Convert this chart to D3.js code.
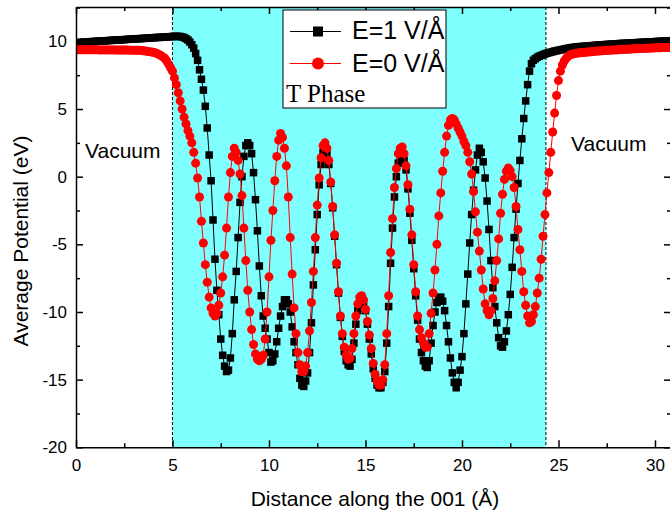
<!DOCTYPE html>
<html>
<head>
<meta charset="utf-8">
<script src="https://cdn.jsdelivr.net/npm/d3@7"></script>
<style>
	body { margin: 0; background: #fff; }
	svg { display: block; font-family: "Liberation Sans", Arial, sans-serif; }
	.axis path, .axis line { stroke: #000; stroke-width: 1.5; }
	.axis text { font-size: 17px; fill: #000; font-family: "Liberation Sans", Arial, sans-serif; }
</style>
</head>
<body>
<svg id="chart" width="670" height="517"></svg>
<script>
// sampling grid of the averaged potential (Å)
var xStep = 0.1;

// E = 1 V/Å, one value per grid point from 0 Å
var e1Values = [
	9.90,9.91,9.92,9.93,9.94,9.95,9.96,9.97,9.98,9.99,
	10.00,10.01,10.02,10.02,10.03,10.04,10.05,10.06,10.07,10.08,
	10.09,10.10,10.11,10.11,10.12,10.13,10.14,10.15,10.16,10.17,
	10.18,10.19,10.20,10.20,10.21,10.22,10.23,10.24,10.25,10.26,
	10.27,10.28,10.29,10.29,10.30,10.31,10.32,10.33,10.34,10.35,
	10.36,10.36,10.37,10.37,10.36,10.33,10.28,10.20,10.10,9.95,
	9.75,9.50,9.10,8.60,7.90,7.20,6.40,5.20,3.60,1.60,
	-0.30,-3.20,-6.10,-8.40,-10.20,-12.00,-13.20,-14.00,-14.40,-14.30,
	-13.40,-11.60,-9.10,-7.00,-4.50,-1.90,0.00,1.50,2.30,2.50,
	2.30,1.70,0.30,-1.70,-4.00,-6.60,-8.80,-10.30,-11.20,-12.00,
	-13.00,-13.70,-13.60,-13.10,-12.20,-11.20,-10.30,-9.60,-9.10,-9.10,
	-9.40,-10.00,-11.10,-12.20,-13.00,-13.90,-14.90,-15.40,-15.50,-15.10,
	-14.50,-13.00,-10.80,-8.00,-5.40,-2.80,-0.60,0.90,1.80,2.00,
	1.70,0.90,-0.50,-2.30,-4.40,-6.50,-8.60,-10.40,-11.80,-12.90,
	-13.60,-13.90,-14.00,-13.50,-12.30,-10.90,-9.90,-9.40,-9.20,-9.30,
	-9.90,-10.90,-12.00,-13.10,-14.20,-14.90,-15.40,-15.60,-15.60,-15.20,
	-14.40,-12.30,-9.60,-6.40,-3.80,-1.50,0.00,1.00,1.50,1.60,
	1.20,0.50,-0.90,-2.70,-4.70,-6.80,-8.80,-10.60,-12.00,-13.00,
	-13.60,-14.00,-14.10,-13.60,-12.30,-11.00,-10.00,-9.30,-9.00,-8.90,
	-9.20,-9.90,-11.00,-12.20,-13.40,-14.50,-15.20,-15.60,-15.20,-14.30,
	-13.30,-11.60,-9.40,-7.20,-4.90,-2.80,-1.00,0.50,1.60,2.10,
	1.80,1.10,-0.10,-1.80,-3.90,-6.20,-8.20,-9.60,-10.80,-11.90,
	-12.50,-12.60,-12.20,-11.40,-10.20,-8.70,-6.70,-4.50,-2.40,-0.50,
	1.20,2.80,4.30,5.60,6.80,7.80,8.35,8.60,8.72,8.82,
	8.90,8.96,9.02,9.07,9.12,9.16,9.20,9.24,9.28,9.31,
	9.34,9.37,9.40,9.43,9.46,9.49,9.52,9.54,9.56,9.58,
	9.60,9.61,9.62,9.63,9.64,9.65,9.66,9.68,9.69,9.70,
	9.72,9.73,9.74,9.75,9.76,9.77,9.78,9.79,9.80,9.81,
	9.82,9.83,9.84,9.85,9.85,9.86,9.87,9.88,9.89,9.89,
	9.90,9.91,9.92,9.93,9.93,9.94,9.95,9.96,9.97,9.97,
	9.98,9.99,10.00,10.00,10.01,10.02,10.03,10.04,10.05
];

// E = 0 V/Å
var e0Values = [
	9.38,9.38,9.38,9.38,9.38,9.38,9.38,9.38,9.38,9.38,
	9.38,9.38,9.37,9.37,9.37,9.37,9.37,9.37,9.37,9.37,
	9.37,9.36,9.36,9.36,9.36,9.36,9.36,9.36,9.35,9.35,
	9.35,9.34,9.34,9.34,9.32,9.30,9.28,9.26,9.24,9.22,
	9.20,9.15,9.10,9.02,8.95,8.85,8.75,8.55,8.30,8.05,
	7.80,7.30,6.80,6.20,5.60,5.00,4.40,3.90,3.40,3.00,
	2.50,1.80,1.00,-0.10,-1.50,-3.30,-4.90,-6.50,-7.80,-8.90,
	-9.70,-10.10,-10.30,-10.10,-9.50,-8.60,-7.40,-5.80,-3.80,-1.50,
	0.30,1.50,2.10,1.80,1.20,0.20,-1.40,-3.80,-6.20,-8.40,
	-10.00,-11.30,-12.40,-13.10,-13.50,-13.60,-13.50,-13.20,-12.00,-10.00,
	-7.40,-4.70,-2.50,-0.30,1.50,2.70,3.20,2.90,2.10,0.80,
	-1.50,-4.50,-7.20,-9.70,-11.60,-13.00,-13.90,-14.40,-14.40,-14.00,
	-13.00,-11.40,-9.30,-7.00,-4.50,-2.10,-0.10,1.40,2.30,2.50,
	2.10,1.20,-0.40,-2.20,-4.30,-6.40,-8.50,-10.30,-11.60,-12.60,
	-13.20,-13.50,-13.40,-12.70,-11.60,-10.30,-9.40,-8.90,-8.80,-9.10,
	-9.80,-10.70,-11.70,-12.70,-13.80,-14.60,-15.10,-15.40,-15.40,-15.00,
	-13.90,-11.60,-8.80,-5.60,-3.10,-0.80,0.60,1.70,2.10,2.20,
	1.70,0.80,-0.60,-2.40,-4.30,-6.50,-8.50,-10.30,-11.30,-11.90,
	-12.30,-12.60,-12.60,-11.60,-10.10,-8.60,-6.90,-5.00,-2.90,-1.20,
	0.40,1.80,3.00,3.80,4.20,4.30,4.20,3.90,3.60,3.30,
	3.00,2.60,2.30,1.80,1.10,0.20,-1.10,-2.60,-4.10,-5.50,
	-6.90,-8.30,-9.40,-9.90,-10.20,-9.90,-9.00,-7.70,-6.20,-4.60,
	-2.70,-1.30,-0.20,0.40,0.65,0.45,0.00,-0.80,-2.20,-3.90,
	-5.40,-7.00,-8.50,-9.50,-10.30,-10.80,-10.70,-10.20,-9.60,-8.60,
	-7.50,-6.10,-4.40,-2.80,-1.20,0.30,1.80,3.30,4.70,6.00,
	7.10,7.80,8.25,8.55,8.75,8.90,9.00,9.05,9.08,9.11,
	9.14,9.15,9.17,9.18,9.20,9.21,9.22,9.24,9.25,9.27,
	9.28,9.29,9.30,9.31,9.32,9.33,9.34,9.35,9.36,9.37,
	9.37,9.38,9.39,9.40,9.41,9.41,9.42,9.43,9.44,9.45,
	9.45,9.46,9.47,9.47,9.48,9.49,9.49,9.50,9.51,9.51,
	9.52,9.52,9.53,9.53,9.54,9.54,9.55,9.55,9.56
];

var xMajorTicks = [0, 5, 10, 15, 20, 25, 30];
var xMinorTicks = [2.5, 7.5, 12.5, 17.5, 22.5, 27.5];
var yMajorTicks = [-20, -15, -10, -5, 0, 5, 10];
var yMinorTicks = [-17.5, -12.5, -7.5, -2.5, 2.5, 7.5, 12.5];
var phaseRange = [5, 24.35];
var seriesNames = ["E=1 V/Å", "E=0 V/Å"];

var margin = {top: 7, left: 76},
	plotWidth = 595,
	plotHeight = 440.3;

var svg = d3.select('#chart');

var x = d3.scaleLinear()
	.domain([0, 30.83])
	.range([0, plotWidth]);

var y = d3.scaleLinear()
	.domain([-20, 12.54])
	.range([plotHeight, 0]);

// plain hyphen for negatives, as in the original plot
var tickText = function(d){ return String(d); };

var g = svg.append('g')
	.attr('transform', 'translate(' + margin.left + ',' + margin.top + ')');

g.append('clipPath')
	.attr('id', 'plotClip')
	.append('rect')
	.attr('width', plotWidth)
	.attr('height', plotHeight);

// T phase slab
g.append('rect')
	.attr('x', x(phaseRange[0]))
	.attr('width', x(phaseRange[1]) - x(phaseRange[0]))
	.attr('y', 0)
	.attr('height', plotHeight)
	.attr('fill', '#80ffff');

g.selectAll('.bound')
	.data(phaseRange)
	.enter().append('line')
	.attr('class', 'bound')
	.attr('x1', function(d){ return x(d); })
	.attr('x2', function(d){ return x(d); })
	.attr('y1', 0)
	.attr('y2', plotHeight)
	.attr('stroke', '#000')
	.attr('stroke-width', 1)
	.attr('stroke-dasharray', '3,2');

function toPoints(values){
	return values.map(function(v, i){
		return {x: i * xStep, y: v};
	});
}

var e1 = toPoints(e1Values),
	e0 = toPoints(e0Values);

var line = d3.line()
	.x(function(d){ return x(d.x); })
	.y(function(d){ return y(d.y); });

var plot = g.append('g')
	.attr('clip-path', 'url(#plotClip)');

plot.append('path')
	.datum(e1)
	.attr('d', line)
	.attr('fill', 'none')
	.attr('stroke', '#000')
	.attr('stroke-width', 1);

plot.selectAll('.sq')
	.data(e1)
	.enter().append('rect')
	.attr('class', 'sq')
	.attr('x', function(d){ return x(d.x) - 3.75; })
	.attr('y', function(d){ return y(d.y) - 3.75; })
	.attr('width', 7.5)
	.attr('height', 7.5)
	.attr('fill', '#000');

plot.append('path')
	.datum(e0)
	.attr('d', line)
	.attr('fill', 'none')
	.attr('stroke', '#ff0000')
	.attr('stroke-width', 1);

plot.selectAll('.dot')
	.data(e0)
	.enter().append('circle')
	.attr('class', 'dot')
	.attr('cx', function(d){ return x(d.x); })
	.attr('cy', function(d){ return y(d.y); })
	.attr('r', 4.5)
	.attr('fill', '#ff0000');

// frame: inward ticks on all four sides
g.append('g')
	.attr('class', 'x axis')
	.attr('transform', 'translate(0,' + plotHeight + ')')
	.call(d3.axisBottom(x).tickValues(xMajorTicks).tickFormat(tickText).tickSizeInner(-7).tickSizeOuter(0).tickPadding(12));

g.append('g')
	.attr('class', 'x axis minor')
	.attr('transform', 'translate(0,' + plotHeight + ')')
	.call(d3.axisBottom(x).tickValues(xMinorTicks).tickSize(-4).tickFormat(''));

g.append('g')
	.attr('class', 'x axis')
	.call(d3.axisTop(x).tickValues(xMajorTicks).tickSizeInner(-7).tickSizeOuter(0).tickFormat(''));

g.append('g')
	.attr('class', 'x axis minor')
	.call(d3.axisTop(x).tickValues(xMinorTicks).tickSize(-4).tickFormat(''));

g.append('g')
	.attr('class', 'y axis')
	.call(d3.axisLeft(y).tickValues(yMajorTicks).tickFormat(tickText).tickSizeInner(-7).tickSizeOuter(0).tickPadding(9));

g.append('g')
	.attr('class', 'y axis minor')
	.call(d3.axisLeft(y).tickValues(yMinorTicks).tickSize(-4).tickFormat(''));

g.append('g')
	.attr('class', 'y axis')
	.attr('transform', 'translate(' + plotWidth + ',0)')
	.call(d3.axisRight(y).tickValues(yMajorTicks).tickSizeInner(-7).tickSizeOuter(0).tickFormat(''));

g.append('g')
	.attr('class', 'y axis minor')
	.attr('transform', 'translate(' + plotWidth + ',0)')
	.call(d3.axisRight(y).tickValues(yMinorTicks).tickSize(-4).tickFormat(''));

g.selectAll('.minor .domain').remove();

// legend
var legend = svg.append('g');

legend.append('rect')
	.attr('x', 283)
	.attr('y', 10)
	.attr('width', 163)
	.attr('height', 98)
	.attr('fill', '#fff')
	.attr('stroke', '#000')
	.attr('stroke-width', 1);

legend.append('line')
	.attr('x1', 290).attr('x2', 341)
	.attr('y1', 31.5).attr('y2', 31.5)
	.attr('stroke', '#000');

legend.append('rect')
	.attr('x', 313).attr('y', 26.5)
	.attr('width', 10).attr('height', 10)
	.attr('fill', '#000');

legend.append('line')
	.attr('x1', 290).attr('x2', 341)
	.attr('y1', 63.5).attr('y2', 63.5)
	.attr('stroke', '#ff0000');

legend.append('circle')
	.attr('cx', 318).attr('cy', 63.5)
	.attr('r', 6)
	.attr('fill', '#ff0000');

legend.selectAll('.ltext')
	.data(seriesNames)
	.enter().append('text')
	.attr('class', 'ltext')
	.attr('x', 352)
	.attr('y', function(d, i){ return 39 + i * 33; })
	.attr('font-size', 25)
	.text(function(d){ return d; });

legend.append('text')
	.attr('x', 286)
	.attr('y', 102)
	.attr('font-family', '"Liberation Serif", "Times New Roman", serif')
	.attr('font-size', 25)
	.text('T Phase');

svg.append('text')
	.attr('x', 85)
	.attr('y', 157.5)
	.attr('font-size', 21)
	.text('Vacuum');

svg.append('text')
	.attr('x', 571)
	.attr('y', 151)
	.attr('font-size', 21)
	.text('Vacuum');

svg.append('text')
	.attr('x', 375)
	.attr('y', 506)
	.attr('text-anchor', 'middle')
	.attr('font-size', 21)
	.text('Distance along the 001 (Å)');

svg.append('text')
	.attr('transform', 'translate(28,241) rotate(-90)')
	.attr('text-anchor', 'middle')
	.attr('font-size', 21)
	.text('Average Potential (eV)');
</script>
</body>
</html>
